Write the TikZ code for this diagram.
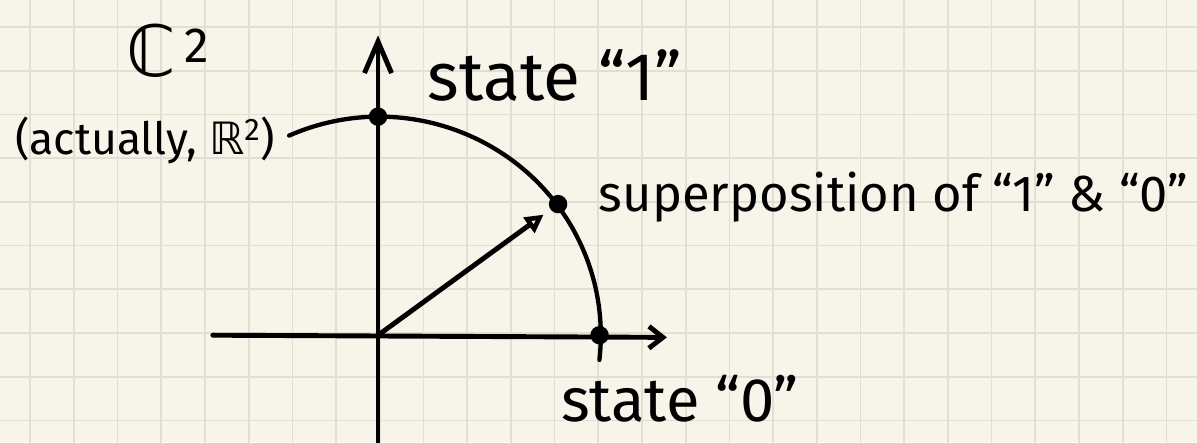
\documentclass[tikz,border=0pt]{standalone}
\usepackage{fontspec}
\usepackage{amsmath,amssymb}
\setmainfont{Fira Sans}
\newfontfamily\symfont{DejaVu Sans}
\usetikzlibrary{arrows.meta,positioning}
\definecolor{paper1}{RGB}{247,245,233}
\definecolor{grid1}{RGB}{225,223,210}

\begin{document}
\begin{tikzpicture}[line width=3.2pt, line cap=round,
  hand/.style={inner sep=0pt, font=\fontsize{#1}{#1}\selectfont},
  dot/.style={circle, fill=black, inner sep=0pt, minimum size=12pt}]

% PAPER
\fill[paper1] (-8.65,-2.45) rectangle (18.74,7.67);
\useasboundingbox (-8.65,-2.45) rectangle (18.74,7.67);
\begin{scope}
\clip (-8.65,-2.45) rectangle (18.74,7.67);
\draw[grid1, line width=1.1pt, shift={(0.04,0.05)}] (-9,-3) grid (19,8);
\end{scope}

% AXES
\coordinate (O) at (0,0);
\coordinate (xl) at (-3.78,0);
\coordinate (xr) at (6.61,-0.05);
\coordinate (yb) at (0,-2.5);
\coordinate (yt) at (0,6.86);
\draw[-{Straight Barb[length=0.32cm, width=0.5cm]}] (xl) -- (xr);
\draw[-{Straight Barb[length=0.72cm, width=0.62cm]}] (yb) -- (yt);

% QUARTER CIRCLE
\draw[line width=2.8pt] (114:5) arc[x radius=5.07, y radius=5, start angle=114, end angle=-6.5];
\node[dot] (one) at (0,5) {};
\node[dot] (zero) at (5.07,0) {};
\node[dot] (sup) at (4.12,3.0) {};
\draw[-{Triangle[open, length=0.42cm, width=0.42cm]}, shorten >=4pt] (O) -- (sup);

% LABELS
\node[hand=46pt] (C2) at (-4.8,6.5) {{\symfont ℂ}\textsuperscript{\,2}};
\node[hand=29pt] (real) at (-5.33,4.46) {(actually, {\symfont ℝ}\textsuperscript{2})};
\node[hand=44pt] (lab1) at (4.05,5.95) {state “1”};
\node[hand=33pt, anchor=west] (labsup) at (5.0,3.15) {superposition of “1” \& “0”};
\node[hand=40pt] (lab0) at (6.91,-1.45) {state “0”};

\end{tikzpicture}
\end{document}
